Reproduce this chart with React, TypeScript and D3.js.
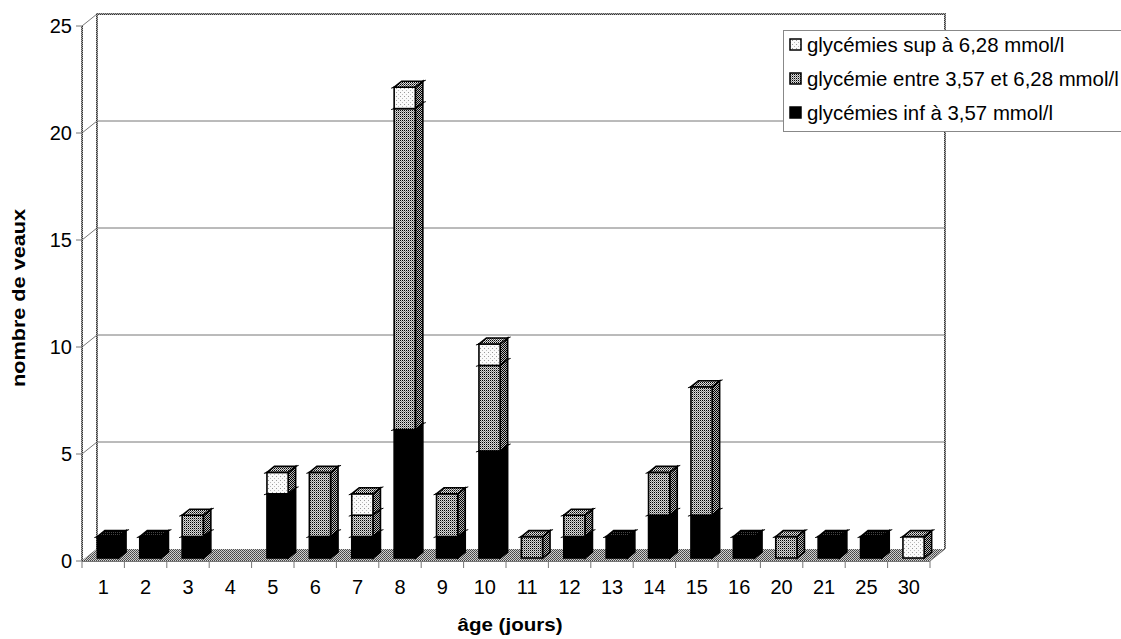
import React from "react";
import * as d3 from "d3";

// Age of calves (days) and counts per glycaemia class
const categories = ["1", "2", "3", "4", "5", "6", "7", "8", "9", "10", "11", "12", "13", "14", "15", "16", "20", "21", "25", "30"];
const lowValues = [1, 1, 1, 0, 3, 1, 1, 6, 1, 5, 0, 1, 1, 2, 2, 1, 0, 1, 1, 0];
const midValues = [0, 0, 1, 0, 0, 3, 1, 15, 2, 4, 1, 1, 0, 2, 6, 0, 1, 0, 0, 0];
const highValues = [0, 0, 0, 0, 1, 0, 1, 1, 0, 1, 0, 0, 0, 0, 0, 0, 0, 0, 0, 1];
const yTicks = [0, 5, 10, 15, 20, 25];
const seriesNames = [
  "glycémies sup à 6,28 mmol/l",
  "glycémie entre 3,57 et 6,28 mmol/l",
  "glycémies inf à 3,57 mmol/l",
];

const W = 1121;
const H = 639;
const FONT = "'Liberation Sans', Arial, Helvetica, sans-serif";

// plot geometry: front plane + depth offset for the 3D box
const left = 82;
const right = 930;
const bottom = 561;
const top = 26;
const DX = 15;
const DY = -12;

const x = d3.scaleBand<string>().domain(categories).range([left, right]).paddingInner(0.5).paddingOuter(0.25);
const y = d3.scaleLinear().domain([0, 25]).range([bottom, top]);
const step = x.step();

type Seg = { v0: number; v1: number; kind: "low" | "mid" | "high" };

const styles = {
  low: { front: "#000", side: "#000", top: "url(#pTopDark)" },
  mid: { front: "url(#pMid)", side: "url(#pSide)", top: "url(#pTop)" },
  high: { front: "url(#pHigh)", side: "url(#pSide)", top: "url(#pTop)" },
};

function Bar({ cat, i }: { cat: string; i: number }) {
  const segs: Seg[] = [];
  let acc = 0;
  const parts: [number, Seg["kind"]][] = [
    [lowValues[i], "low"],
    [midValues[i], "mid"],
    [highValues[i], "high"],
  ];
  for (const [v, kind] of parts) {
    if (v > 0) {
      segs.push({ v0: acc, v1: acc + v, kind });
      acc += v;
    }
  }
  const bw = x.bandwidth();
  const x0 = (x(cat) as number) + DX * 0.25 + 1;
  const x1 = x0 + bw;
  const oy = DY * 0.25;
  const bx = DX * 0.5;
  const by = DY * 0.5;
  return (
    <g>
      {segs.map((s, k) => {
        const yt = y(s.v1) + oy;
        const yb = y(s.v0) + oy;
        const st = styles[s.kind];
        const isTop = k === segs.length - 1;
        return (
          <g key={k} stroke="#000" strokeWidth={1.6} strokeLinejoin="miter">
            <polygon
              points={`${x1},${yt} ${x1 + bx},${yt + by} ${x1 + bx},${yb + by} ${x1},${yb}`}
              fill={st.side}
            />
            <rect x={x0} y={yt} width={bw} height={yb - yt} fill={st.front} />
            {isTop && (
              <polygon
                points={`${x0},${yt} ${x1},${yt} ${x1 + bx},${yt + by} ${x0 + bx},${yt + by}`}
                fill={st.top}
              />
            )}
            {/* small edge marks at the segment top */}
            <line x1={x0 - 3} y1={yt + 1} x2={x0} y2={yt} strokeWidth={1} />
            <line x1={x1 + bx} y1={yt + by} x2={x1 + bx + 3} y2={yt + by - 1} strokeWidth={1} />
          </g>
        );
      })}
    </g>
  );
}

export default function App() {
  const backLeft = left + DX;
  const backRight = right + DX;
  return (
    <svg width={W} height={H} style={{ position: "absolute", left: 0, top: 0, background: "#fff" }} fontFamily={FONT}>
      <defs>
        <pattern id="pMid" width={2} height={2} patternUnits="userSpaceOnUse">
          <rect width={2} height={2} fill="#d8d8d8" />
          <rect width={1} height={1} fill="#000" />
          <rect x={1} y={1} width={1} height={1} fill="#888" />
        </pattern>
        <pattern id="pSide" width={2} height={2} patternUnits="userSpaceOnUse">
          <rect width={2} height={2} fill="#bbb" />
          <rect width={1} height={1} fill="#000" />
          <rect x={1} y={1} width={1} height={1} fill="#000" />
        </pattern>
        <pattern id="pTop" width={2} height={2} patternUnits="userSpaceOnUse">
          <rect width={2} height={2} fill="#ddd" />
          <rect width={1} height={1} fill="#000" />
          <rect x={1} y={1} width={1} height={1} fill="#555" />
        </pattern>
        <pattern id="pTopDark" width={2} height={2} patternUnits="userSpaceOnUse">
          <rect width={2} height={2} fill="#000" />
          <rect x={1} width={1} height={1} fill="#444" />
        </pattern>
        <pattern id="pHigh" width={4} height={4} patternUnits="userSpaceOnUse">
          <rect width={4} height={4} fill="#fafafa" />
          <rect width={1} height={1} fill="#999" />
          <rect x={2} y={2} width={1} height={1} fill="#bbb" />
        </pattern>
        <pattern id="pFloor" width={2} height={2} patternUnits="userSpaceOnUse">
          <rect width={2} height={2} fill="#cfcfcf" />
          <rect width={1} height={1} fill="#444" />
          <rect x={1} y={1} width={1} height={1} fill="#555" />
        </pattern>
        <pattern id="pWall" width={2} height={2} patternUnits="userSpaceOnUse">
          <rect width={2} height={2} fill="#aaa" />
          <rect width={1} height={1} fill="#333" />
          <rect x={1} y={1} width={1} height={1} fill="#555" />
        </pattern>
      </defs>

      {/* back wall gridlines */}
      {yTicks.slice(1, -1).map((t) => (
        <line key={"g" + t} x1={backLeft} x2={backRight} y1={y(t) + DY} y2={y(t) + DY} stroke="#777" strokeWidth={1} />
      ))}
      {/* side wall diagonals */}
      {yTicks.map((t) => (
        <line key={"d" + t} x1={left} y1={y(t)} x2={backLeft} y2={y(t) + DY} stroke="#777" strokeWidth={1} />
      ))}

      {/* floor */}
      <polygon
        points={`${left},${bottom} ${right},${bottom} ${backRight},${bottom + DY} ${backLeft},${bottom + DY}`}
        fill="url(#pFloor)"
      />

      {/* walls */}
      <rect x={backLeft - 1} y={top + DY - 1} width={2} height={bottom - top + 1} fill="url(#pWall)" />
      <rect x={backLeft - 1} y={top + DY - 1} width={backRight - backLeft + 1} height={2} fill="url(#pWall)" />
      <rect x={backRight - 1} y={top + DY - 1} width={2} height={bottom - top + 1} fill="url(#pWall)" />
      <rect x={left - 1} y={top} width={2} height={bottom - top} fill="url(#pWall)" />
      <line x1={right} y1={bottom} x2={backRight} y2={bottom + DY} stroke="#777" strokeWidth={1} />

      {/* bars */}
      {categories.map((c, i) => (
        <Bar key={c} cat={c} i={i} />
      ))}

      {/* front axis line and ticks */}
      <line x1={left} x2={right} y1={bottom + 0.5} y2={bottom + 0.5} stroke="#777" strokeWidth={1} />
      {d3.range(categories.length + 1).map((k) => (
        <line
          key={"t" + k}
          x1={left + k * step}
          x2={left + k * step}
          y1={bottom}
          y2={bottom + 7}
          stroke="#777"
          strokeWidth={1}
        />
      ))}
      {yTicks.map((t) => (
        <g key={"y" + t}>
          <line x1={left - 6} x2={left} y1={y(t)} y2={y(t)} stroke="#777" strokeWidth={1} />
          <text x={left - 10} y={y(t)} dy="0.36em" textAnchor="end" fontSize={20} fill="#000">
            {t}
          </text>
        </g>
      ))}
      {categories.map((c) => (
        <text
          key={"c" + c}
          x={(x(c) as number) + x.bandwidth() / 2}
          y={594}
          textAnchor="middle"
          fontSize={20}
          fill="#000"
        >
          {c}
        </text>
      ))}

      {/* axis titles */}
      <text
        x={510}
        y={631}
        textAnchor="middle"
        fontSize={17.5}
        fontWeight="bold"
        textLength={105}
        lengthAdjust="spacingAndGlyphs"
      >
        âge (jours)
      </text>
      <text
        transform="translate(25,298) rotate(-90)"
        textAnchor="middle"
        fontSize={17.5}
        fontWeight="bold"
        textLength={178}
        lengthAdjust="spacingAndGlyphs"
      >
        nombre de veaux
      </text>

      {/* legend */}
      <rect x={783.5} y={30.5} width={360} height={101} fill="#fff" stroke="#888" strokeWidth={1} />
      {seriesNames.map((name, k) => {
        const cy = 45 + k * 34;
        const fills = ["url(#pHigh)", "url(#pMid)", "#000"];
        return (
          <g key={name}>
            <rect x={790} y={cy - 6} width={11} height={11} fill={fills[k]} stroke="#000" strokeWidth={1.5} />
            <text x={807} y={cy} dy="0.36em" fontSize={20.4} fill="#000">
              {name}
            </text>
          </g>
        );
      })}
    </svg>
  );
}
